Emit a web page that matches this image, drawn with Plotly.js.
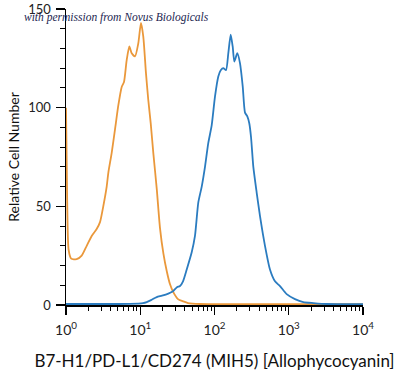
<!DOCTYPE html>
<html>
<head>
<meta charset="utf-8">
<script src="https://cdn.plot.ly/plotly-3.0.1.min.js"></script>
<style>html,body{margin:0;padding:0;background:#fff;}#chart{width:400px;height:377px;}</style>
</head>
<body>
<div id="chart"></div>
<script>
// Isotype control (orange)
const isoX = [1, 1.035, 1.084, 1.175, 1.393, 1.626, 1.901, 2.218, 2.588, 2.871, 3.177, 3.532, 3.715, 4.121, 4.571, 5.058, 5.623, 6.039, 6.561, 7.129, 7.674, 8.492, 9.419, 10.23, 10.99, 11.94, 12.82, 13.84, 15.00, 16.67, 18.45, 20.51, 22.80, 25.18, 27.86, 32.21, 38.02, 43.95, 63.83, 158.5, 398, 1000, 3162, 10000];
const isoY = [100, 55, 28, 23.5, 23.2, 25, 30, 35, 38.5, 42, 50, 60, 67, 77, 89, 101, 110.5, 113, 124, 131, 127.6, 126, 132.7, 143, 136, 117.5, 104, 92, 77, 59, 39, 26, 17, 10.5, 6.5, 3, 1.8, 1, 0.5, 0.4, 0.4, 0.4, 0.4, 0.4];
// B7-H1/PD-L1/CD274 stained (blue)
const stainX = [1, 2.871, 7.278, 10.89, 12.22, 13.96, 16.67, 19.63, 23.88, 27.61, 31.26, 34.28, 37.67, 42.27, 49.32, 54.58, 60.53, 67.30, 74.47, 82.41, 91.62, 101.6, 112.5, 121.3, 131.5, 142.9, 153.5, 165.2, 175.8, 184.9, 202.8, 220.3, 239.9, 257.6, 276.7, 294.4, 310.5, 333.4, 369.8, 410.2, 478.6, 558.5, 653.1, 762.1, 937.6, 1213, 1570, 2143, 3243, 10000];
const stainY = [0.5, 0.5, 0.6, 1, 1.5, 2.5, 4, 4.7, 5.8, 7, 9, 9.6, 12, 18, 26.7, 35, 52, 60, 70, 82, 91, 105.7, 115.8, 119, 120, 119, 127.6, 137, 131, 123.4, 127.6, 122.6, 110.8, 97.5, 95.6, 92, 85, 70, 57, 45, 30, 18, 12, 9.6, 5.5, 3, 1.5, 1, 0.5, 0.4];

const xTickVals = [1, 10, 100, 1000, 10000];
const xTickText = ['10<sup>0</sup>', '10<sup>1</sup>', '10<sup>2</sup>', '10<sup>3</sup>', '10<sup>4</sup>'];
const yTickVals = [0, 50, 100, 150];
const yTickText = ['0', '50', '100', '150'];

const font = 'Lato, "Open Sans", sans-serif';

const traces = [
  {x: isoX, y: isoY, type: 'scatter', mode: 'lines', line: {color: '#EA983B', width: 1.8, shape: 'spline', smoothing: 0.6}, hoverinfo: 'skip'},
  {x: stainX, y: stainY, type: 'scatter', mode: 'lines', line: {color: '#2B7CC0', width: 1.8, shape: 'spline', smoothing: 0.6}, hoverinfo: 'skip'}
];

const layout = {
  width: 400, height: 377,
  margin: {l: 66, r: 37, t: 9, b: 72},
  paper_bgcolor: '#fff', plot_bgcolor: '#fff',
  showlegend: false,
  font: {family: font, color: '#222', size: 13},
  xaxis: {
    type: 'log', range: [0, 4],
    tickvals: xTickVals, ticktext: xTickText,
    ticks: 'outside', ticklen: 8, tickwidth: 1.2, tickcolor: '#000',
    ticklabelstandoff: 4,
    minor: {ticks: 'outside', ticklen: 4, tickwidth: 1, tickcolor: '#000', dtick: 'D1', showgrid: false},
    showline: true, linecolor: '#000', linewidth: 1.5,
    showgrid: false, zeroline: false,
    tickfont: {family: font, size: 14, color: '#222'},
    title: {text: 'B7-H1/PD-L1/CD274 (MIH5) [Allophycocyanin]', font: {family: font, size: 17, color: '#111'}, standoff: 18}
  },
  yaxis: {
    range: [0, 150],
    tickvals: yTickVals, ticktext: yTickText,
    ticks: 'outside', ticklen: 9, tickwidth: 1.2, tickcolor: '#000',
    ticklabelstandoff: 2,
    minor: {ticks: 'outside', ticklen: 5, tickwidth: 1, tickcolor: '#000', dtick: 10, showgrid: false},
    showline: true, linecolor: '#000', linewidth: 1.5,
    showgrid: false, zeroline: false,
    tickfont: {family: font, size: 13, color: '#222'},
    title: {text: 'Relative Cell Number', font: {family: font, size: 14, color: '#111'}, standoff: 5}
  },
  annotations: [{
    xref: 'paper', yref: 'paper', x: -0.148, y: 0.972, xanchor: 'left', yanchor: 'middle',
    text: '<i>with permission from Novus Biologicals</i>', showarrow: false,
    font: {family: '"Liberation Serif", "DejaVu Serif", serif', size: 11.5, color: '#1c2550'}
  }]
};

Plotly.newPlot('chart', traces, layout, {staticPlot: true, displayModeBar: false});
</script>
</body>
</html>
